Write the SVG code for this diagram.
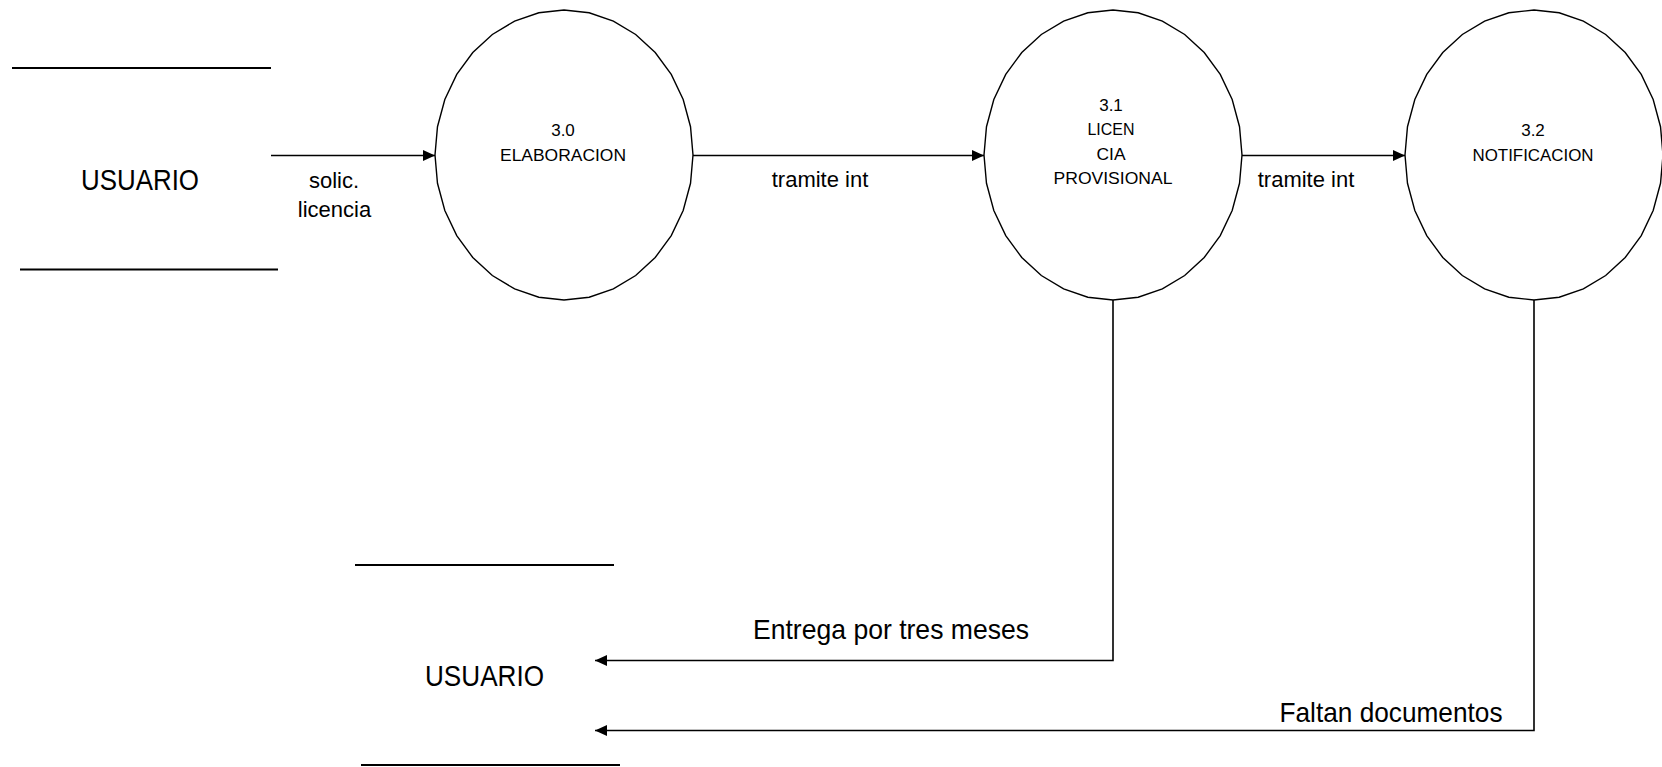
<svg xmlns="http://www.w3.org/2000/svg" width="1662" height="767" viewBox="0 0 1662 767">
<style>
  text { font-family: "Liberation Sans", Arial, sans-serif; fill: #000; }
  .bubble { fill: #fff; stroke: #000; stroke-width: 1.4; }
  .store { stroke: #000; stroke-width: 2; fill: none; }
  .flow { stroke: #000; stroke-width: 1.6; fill: none; }
  .num { font-size: 17px; text-anchor: middle; }
  .big { font-size: 29px; text-anchor: middle; }
  .lbl { font-size: 22px; text-anchor: middle; }
  .lbl2 { font-size: 28px; text-anchor: middle; }
</style>
<defs>
  <polygon id="bub" points="129,0 126.52,28.29 119.18,55.49 107.26,80.56 91.22,102.53 71.67,120.56 49.37,133.96 25.17,142.21 0,145 -25.17,142.21 -49.37,133.96 -71.67,120.56 -91.22,102.53 -107.26,80.56 -119.18,55.49 -126.52,28.29 -129,0 -126.52,-28.29 -119.18,-55.49 -107.26,-80.56 -91.22,-102.53 -71.67,-120.56 -49.37,-133.96 -25.17,-142.21 0,-145 25.17,-142.21 49.37,-133.96 71.67,-120.56 91.22,-102.53 107.26,-80.56 119.18,-55.49 126.52,-28.29"/>
  <marker id="arr" markerUnits="userSpaceOnUse" markerWidth="13" markerHeight="12" refX="12" refY="6" orient="auto">
    <path d="M0,0.5 L12,6 L0,11.5 z" fill="#000"/>
  </marker>
</defs>

<g id="usuario-top">
  <line class="store" x1="12" y1="68" x2="271" y2="68"/>
  <line class="store" x1="20" y1="269.5" x2="278" y2="269.5"/>
  <text class="big" x="140" y="190" textLength="118" lengthAdjust="spacingAndGlyphs">USUARIO</text>
</g>

<g id="p30">
  <use href="#bub" class="bubble" transform="translate(564,155)"/>
  <text class="num" x="563" y="135.5">3.0</text>
  <text class="num" x="563" y="160.5" textLength="126" lengthAdjust="spacingAndGlyphs">ELABORACION</text>
</g>

<g id="p31">
  <use href="#bub" class="bubble" transform="translate(1113,155)"/>
  <text class="num" x="1111" y="111">3.1</text>
  <text class="num" x="1111" y="134.5" textLength="47" lengthAdjust="spacingAndGlyphs">LICEN</text>
  <text class="num" x="1111" y="159.5" textLength="29" lengthAdjust="spacingAndGlyphs">CIA</text>
  <text class="num" x="1113" y="183.5" textLength="119" lengthAdjust="spacingAndGlyphs">PROVISIONAL</text>
</g>

<g id="p32">
  <use href="#bub" class="bubble" transform="translate(1534,155)"/>
  <text class="num" x="1533" y="135.5">3.2</text>
  <text class="num" x="1533" y="160.5" textLength="121" lengthAdjust="spacingAndGlyphs">NOTIFICACION</text>
</g>

<g id="usuario-bottom">
  <line class="store" x1="355" y1="565" x2="614" y2="565"/>
  <line class="store" x1="361" y1="765" x2="620" y2="765"/>
  <text class="big" x="484.5" y="686" textLength="119" lengthAdjust="spacingAndGlyphs">USUARIO</text>
</g>

<g id="connectors">
  <line class="flow" x1="271" y1="155.5" x2="435" y2="155.5" marker-end="url(#arr)"/>
  <text class="lbl" x="334" y="188">solic.</text>
  <text class="lbl" x="334.5" y="217">licencia</text>

  <line class="flow" x1="693" y1="155.5" x2="984" y2="155.5" marker-end="url(#arr)"/>
  <text class="lbl" x="820" y="187">tramite int</text>

  <line class="flow" x1="1242" y1="155.5" x2="1405" y2="155.5" marker-end="url(#arr)"/>
  <text class="lbl" x="1306" y="187">tramite int</text>

  <polyline class="flow" points="1113,300 1113,660.5 595,660.5" marker-end="url(#arr)"/>
  <text class="lbl2" x="891" y="639" textLength="276" lengthAdjust="spacingAndGlyphs">Entrega por tres meses</text>

  <polyline class="flow" points="1534,300 1534,730.5 595,730.5" marker-end="url(#arr)"/>
  <text class="lbl2" x="1391" y="722" textLength="223" lengthAdjust="spacingAndGlyphs">Faltan documentos</text>
</g>
</svg>
